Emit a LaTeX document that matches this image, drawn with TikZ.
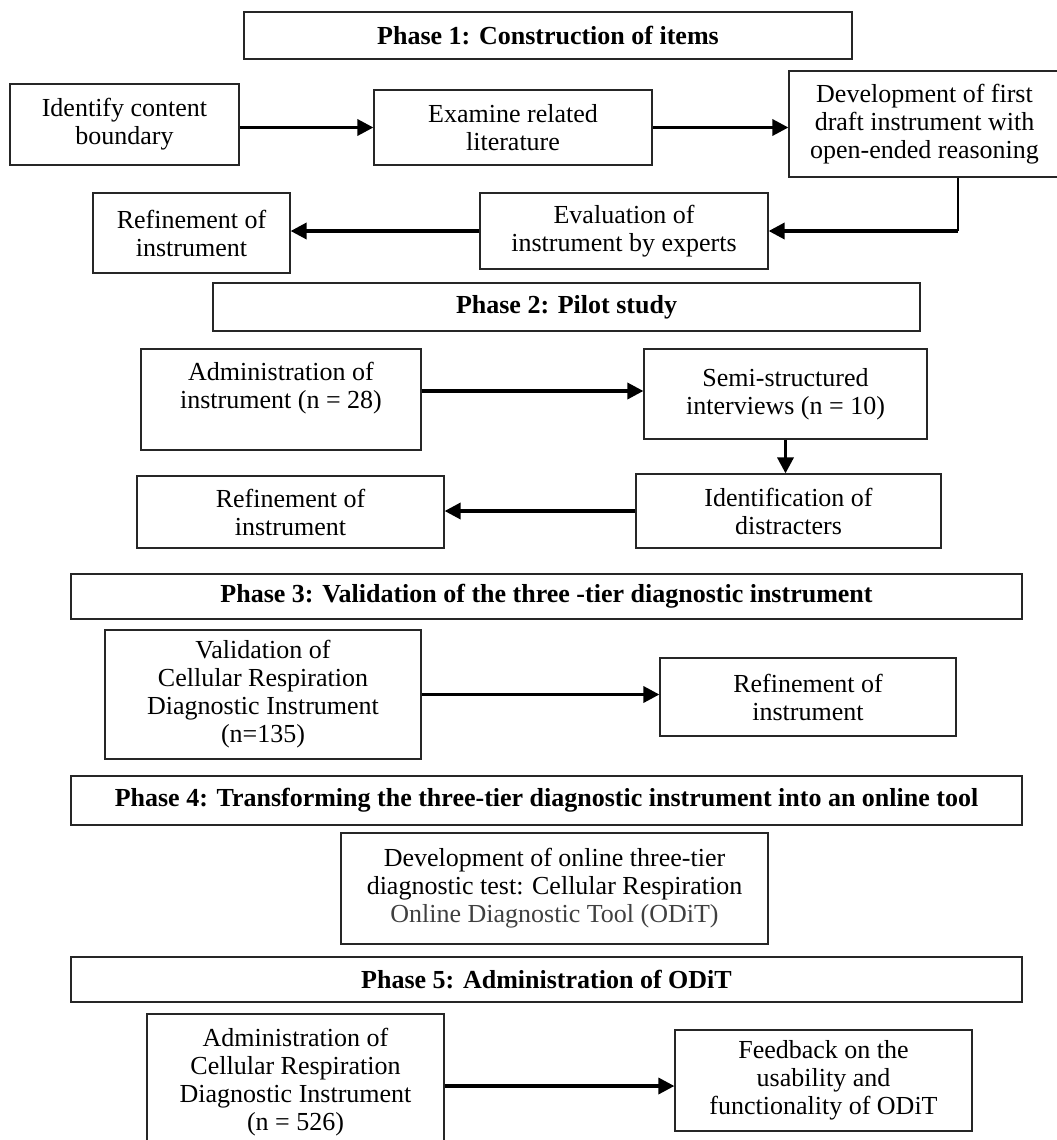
\documentclass[tikz,border=0pt]{standalone}
\usepackage{fontspec}
\setmainfont{Liberation Serif}
\usetikzlibrary{arrows.meta}

\begin{document}
\begin{tikzpicture}[x=0.5pt,y=-0.5pt]
\tikzstyle{every node}+=[inner sep=0pt]
\tikzstyle{box}=[draw=black!85,line width=0.6pt,align=center,font=\fontsize{13}{14}\selectfont]
\tikzstyle{phase}=[box,font=\fontsize{13}{14}\selectfont\bfseries]
\tikzstyle{flow}=[line width=1.7pt,-{Triangle[length=8pt,width=8pt]}]
\useasboundingbox (0,0) rectangle (1056,1140);
% phase 1
\node [phase,minimum width=304pt,minimum height=23.5pt] (phaseA) at (548,35.5) {Phase 1: Construction of items};
\node [box,minimum width=114.5pt,minimum height=40.5pt] (identify) at (124.5,124.5) {Identify content\\boundary};
\node [box,minimum width=139pt,minimum height=37.5pt] (examine) at (513,127.5) {Examine related\\literature};
\node [box,minimum width=135.5pt,minimum height=53pt] (draft) at (924.5,124) {Development of first\\draft instrument with\\open-ended reasoning};
\node [box,minimum width=98.5pt,minimum height=40pt] (refineA) at (191.5,233) {Refinement of\\instrument};
\node [box,minimum width=144pt,minimum height=38pt] (evaluate) at (624,231) {Evaluation of\\instrument by experts};
\coordinate (bend) at (958,231);
\draw [flow] (identify.east |- examine.west) -- (examine.west);
\draw [flow] (examine.east) -- (examine.east -| draft.west);
\draw [line width=0.6pt] (bend |- draft.south) -- (bend);
\draw [flow] (bend) -- (evaluate.east);
\draw [flow] (evaluate.west) -- (refineA.east |- evaluate.west);
% phase 2
\node [phase,minimum width=353.5pt,minimum height=24pt] (phaseB) at (566.5,307) {Phase 2: Pilot study};
\node [box,minimum width=140pt,minimum height=50.5pt] (administer) at (281,399.5) {Administration of\\instrument (n = 28)\\\mbox{}};
\node [box,minimum width=141.5pt,minimum height=45pt] (interview) at (785.5,394) {Semi-structured\\interviews (n = 10)};
\node [box,minimum width=152.5pt,minimum height=37pt] (distract) at (788.5,511) {Identification of\\distracters};
\node [box,minimum width=153.5pt,minimum height=36pt] (refineB) at (290.5,512) {Refinement of\\instrument};
\draw [flow] (administer.east |- 0,391) -- (interview.west |- 0,391);
\draw [flow] (interview.south) -- (interview.south |- distract.north);
\draw [flow] (distract.west) -- (refineB.east |- distract.west);
% phase 3
\node [phase,minimum width=475.5pt,minimum height=22.5pt] (phaseC) at (546.5,596.5) {Phase 3: Validation of the three -tier diagnostic instrument};
\node [box,minimum width=158pt,minimum height=64.5pt] (validate) at (263,694.5) {Validation of\\Cellular Respiration\\Diagnostic Instrument\\(n=135)};
\node [box,minimum width=148pt,minimum height=39pt] (refineC) at (808,697) {Refinement of\\instrument};
\draw [flow] (validate.east) -- (refineC.west |- validate.east);
% phase 4
\node [phase,minimum width=475.5pt,minimum height=24.5pt] (phaseD) at (546.5,800.5) {Phase 4: Transforming the three-tier diagnostic instrument into an online tool};
\node [box,minimum width=213.5pt,minimum height=55.5pt] (online) at (554.5,888.5) {Development of online three-tier\\diagnostic test: Cellular Respiration\\\textcolor{black!75}{Online Diagnostic Tool (ODiT)}};
% phase 5
\node [phase,minimum width=475.5pt,minimum height=22.5pt] (phaseE) at (546.5,979.5) {Phase 5: Administration of ODiT};
\node [box,minimum width=148.5pt,minimum height=68pt] (deploy) at (295.5,1082) {Administration of\\Cellular Respiration\\Diagnostic Instrument\\(n = 526)};
\node [box,minimum width=148.5pt,minimum height=50.5pt] (feedback) at (823.5,1080.5) {Feedback on the\\usability and\\functionality of ODiT};
\draw [flow] (deploy.east |- 0,1086) -- (feedback.west |- 0,1086);
\end{tikzpicture}
\end{document}
